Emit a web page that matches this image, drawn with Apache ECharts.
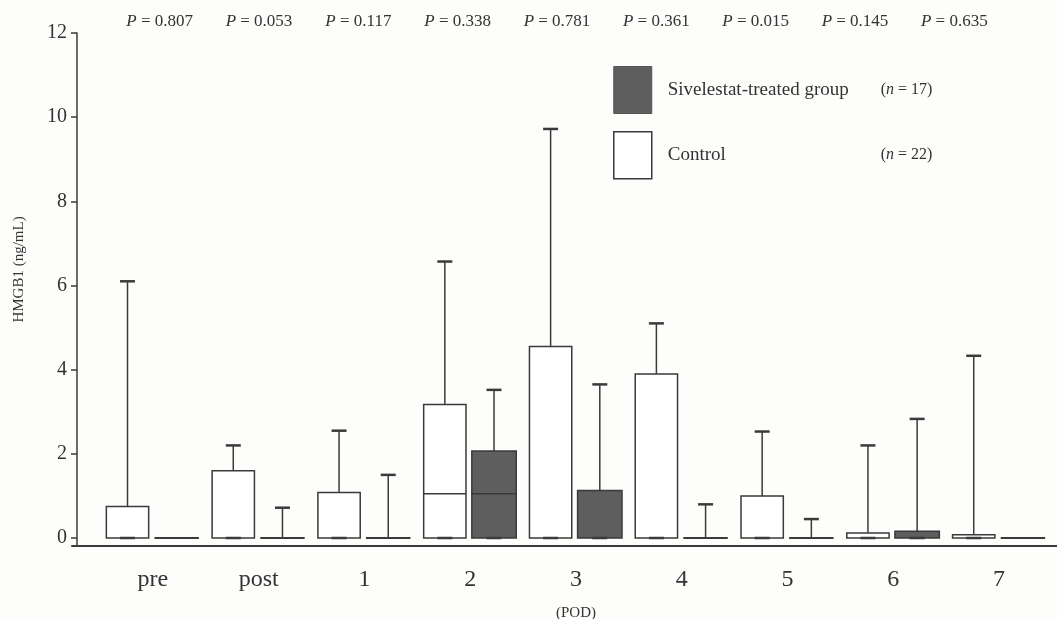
<!DOCTYPE html>
<html>
<head>
<meta charset="utf-8">
<script src="https://cdn.jsdelivr.net/npm/echarts@6/dist/echarts.min.js"></script>
<style>
html,body{margin:0;padding:0;background:#fdfdfb;}
#chart{width:1057px;height:619px;}
</style>
</head>
<body>
<div id="chart"></div>
<script>
// ---- data ----
const categories = ['pre', 'post', '1', '2', '3', '4', '5', '6', '7'];
const pValues = ['0.807', '0.053', '0.117', '0.338', '0.781', '0.361', '0.015', '0.145', '0.635'];
const yTicks = [0, 2, 4, 6, 8, 10, 12];
// [min, Q1, median, Q3, max]
const controlBoxes = [
  [0, 0, 0, 0.75, 6.1],
  [0, 0, 0, 1.6, 2.2],
  [0, 0, 0, 1.08, 2.55],
  [0, 0, 1.05, 3.17, 6.57],
  [0, 0, 0, 4.55, 9.72],
  [0, 0, 0, 3.9, 5.1],
  [0, 0, 0, 1.0, 2.53],
  [0, 0, 0, 0.12, 2.2],
  [0, 0, 0, 0.08, 4.33]
];
const sivelestatBoxes = [
  [0, 0, 0, 0, 0],
  [0, 0, 0, 0, 0.72],
  [0, 0, 0, 0, 1.5],
  [0, 0, 1.05, 2.07, 3.52],
  [0, 0, 0, 1.13, 3.65],
  [0, 0, 0, 0, 0.8],
  [0, 0, 0, 0, 0.45],
  [0, 0, 0, 0.16, 2.83],
  [0, 0, 0, 0, 0]
];
const groupNames = ['Control', 'Sivelestat-treated group'];
const groupN = { 'Control': '22', 'Sivelestat-treated group': '17' };

// ---- styling ----
const FONT = '"Liberation Serif", "DejaVu Serif", serif';
const INK = '#3a3a3a';
const GRAY = '#5e5e5e';

function makeRender(offsetFrac, widthFrac, fill) {
  return function (params, api) {
    const i = api.value(0);
    const band = api.size([1, 0])[0];
    const base = api.coord([i, 0]);
    const cx = base[0] + offsetFrac * band;
    const w = widthFrac * band;
    const yMin = api.coord([i, api.value(1)])[1];
    const yQ1 = api.coord([i, api.value(2)])[1];
    const yMed = api.coord([i, api.value(3)])[1];
    const yQ3 = api.coord([i, api.value(4)])[1];
    const yMax = api.coord([i, api.value(5)])[1];
    const capHalf = 7.5;
    const lineStyle = { stroke: INK, lineWidth: 1.5, fill: null };
    const capStyle = { stroke: INK, lineWidth: 2.5, fill: null };
    const children = [];
    if (yQ3 - yMax > 0.5) {
      children.push({ type: 'line', shape: { x1: cx, y1: yQ3, x2: cx, y2: yMax }, style: lineStyle });
      children.push({ type: 'line', shape: { x1: cx - capHalf, y1: yMax, x2: cx + capHalf, y2: yMax }, style: capStyle });
    }
    if (yQ1 - yQ3 > 1) {
      children.push({ type: 'rect', shape: { x: cx - w / 2, y: yQ3, width: w, height: yQ1 - yQ3 },
        style: { fill: fill, stroke: INK, lineWidth: 1.5 } });
      if (yQ1 - yMed > 1) {
        children.push({ type: 'line', shape: { x1: cx - w / 2, y1: yMed, x2: cx + w / 2, y2: yMed }, style: lineStyle });
      }
      children.push({ type: 'line', shape: { x1: cx - capHalf, y1: yMin, x2: cx + capHalf, y2: yMin }, style: capStyle });
    } else {
      children.push({ type: 'line', shape: { x1: cx - w / 2, y1: yQ1, x2: cx + w / 2, y2: yQ1 }, style: { stroke: INK, lineWidth: 2, fill: null } });
    }
    return { type: 'group', children: children };
  };
}

const chart = echarts.init(document.getElementById('chart'), null, { renderer: 'canvas' });

const option = {
  backgroundColor: '#fdfdfb',
  animation: false,
  textStyle: { fontFamily: FONT, color: '#333' },
  legend: {
    orient: 'vertical',
    left: 613,
    top: 66,
    padding: 0,
    itemWidth: 38,
    itemHeight: 47,
    itemGap: 17,
    icon: 'rect',
    data: [
      { name: 'Sivelestat-treated group', itemStyle: { color: GRAY, borderColor: '#555', borderWidth: 1 } },
      { name: 'Control', itemStyle: { color: '#ffffff', borderColor: INK, borderWidth: 1.5 } }
    ],
    formatter: function (name) {
      return '{a|' + name + '}{b|(}{i|n}{b| = ' + groupN[name] + ')}';
    },
    textStyle: {
      fontFamily: FONT,
      padding: [0, 0, 0, 11],
      rich: {
        a: { fontFamily: FONT, fontSize: 19, color: '#333', width: 213 },
        b: { fontFamily: FONT, fontSize: 16, color: '#333' },
        i: { fontFamily: FONT, fontSize: 16, color: '#333', fontStyle: 'italic' }
      }
    }
  },
  grid: [
    { left: 100, right: 5, top: 33, bottom: 73, outerBoundsMode: 'none', containLabel: false },
    { left: 110, right: 53, top: 33, bottom: 73, outerBoundsMode: 'none', containLabel: false },
    { left: 72, right: 0, top: 33, bottom: 73, outerBoundsMode: 'none', containLabel: false }
  ],
  xAxis: [
    {
      type: 'category', gridIndex: 0, data: categories,
      axisLine: { show: false }, axisTick: { show: false },
      axisLabel: { fontFamily: FONT, fontSize: 24, color: '#333', margin: 22, interval: 0 },
      name: '(POD)', nameLocation: 'middle', nameGap: 60,
      nameTextStyle: { fontFamily: FONT, fontSize: 15, color: '#333' }
    },
    {
      type: 'category', gridIndex: 1, position: 'top', data: pValues,
      axisLine: { show: false }, axisTick: { show: false },
      axisLabel: {
        margin: 3, interval: 0,
        formatter: function (v) { return '{i|P} = ' + v; },
        fontFamily: FONT, fontSize: 17, color: '#333',
        rich: { i: { fontFamily: FONT, fontSize: 17, fontStyle: 'italic', color: '#333' } }
      }
    },
    {
      type: 'value', gridIndex: 2, min: 0, max: 1,
      axisLine: { show: true, lineStyle: { color: INK, width: 2 } },
      axisTick: { show: false }, axisLabel: { show: false }, splitLine: { show: false }
    }
  ],
  yAxis: [
    {
      type: 'value', gridIndex: 0, min: -0.19, max: 12, offset: 23,
      axisLine: { show: true, lineStyle: { color: INK, width: 1.5 } },
      axisTick: { show: true, length: 6, customValues: yTicks, lineStyle: { color: INK, width: 1.5 } },
      axisLabel: { customValues: yTicks, fontFamily: FONT, fontSize: 20, color: '#333', margin: 10 },
      splitLine: { show: false },
      name: 'HMGB1 (ng/mL)', nameLocation: 'middle', nameGap: 50,
      nameTextStyle: { fontFamily: FONT, fontSize: 15, color: '#333', padding: [0, 0, 0, 40] }
    },
    { type: 'value', gridIndex: 1, min: 0, max: 1, show: false },
    { type: 'value', gridIndex: 2, min: 0, max: 1, show: false }
  ],
  series: [
    {
      name: groupNames[0], type: 'custom', xAxisIndex: 0, yAxisIndex: 0,
      itemStyle: { color: '#ffffff', borderColor: INK },
      renderItem: makeRender(-0.24, 0.40, '#ffffff'),
      encode: { x: 0, y: [1, 2, 3, 4, 5] },
      data: categories.map(function (c, i) { return [i].concat(controlBoxes[i]); })
    },
    {
      name: groupNames[1], type: 'custom', xAxisIndex: 0, yAxisIndex: 0,
      itemStyle: { color: GRAY, borderColor: INK },
      renderItem: makeRender(0.225, 0.42, GRAY),
      encode: { x: 0, y: [1, 2, 3, 4, 5] },
      data: categories.map(function (c, i) { return [i].concat(sivelestatBoxes[i]); })
    }
  ]
};
chart.setOption(option);
</script>
</body>
</html>
